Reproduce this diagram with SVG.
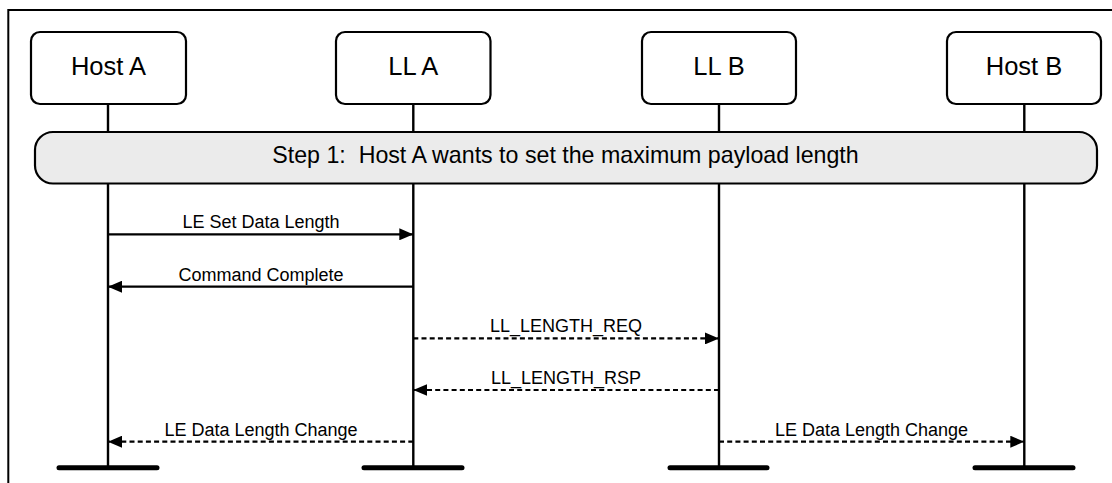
<svg xmlns="http://www.w3.org/2000/svg" width="1112" height="483" viewBox="0 0 1112 483">
<style>
.box{fill:#fff;stroke:#000;stroke-width:2.2}
.lbl{font-family:"Liberation Sans",Arial,sans-serif;font-size:25.5px;fill:#000;text-anchor:middle}
.life{stroke:#000;stroke-width:2.4;fill:none}
.foot{stroke:#000;stroke-width:5;stroke-linecap:round;fill:none}
.msg{stroke:#000;stroke-width:2.2;fill:none}
.dash{stroke-dasharray:5 3.2}
.mtxt{font-family:"Liberation Sans",Arial,sans-serif;font-size:18px;fill:#000;text-anchor:middle}
.step{font-family:"Liberation Sans",Arial,sans-serif;font-size:23.2px;fill:#000;text-anchor:middle;white-space:pre}
</style>
<defs>
<marker id="ah" viewBox="0 0 14 12" refX="14" refY="6" markerWidth="14" markerHeight="12" markerUnits="userSpaceOnUse" orient="auto">
<path d="M0,0 L14,6 L0,12 Z" fill="#000"/>
</marker>
</defs>
<rect width="1112" height="483" fill="#fff"/>
<path d="M8.3,483 V10 H1112" fill="none" stroke="#000" stroke-width="2"/>
<g id="lifelines">
<path class="life" d="M108,104 V468"/>
<path class="life" d="M413.3,104 V468"/>
<path class="life" d="M719,104 V468"/>
<path class="life" d="M1024.3,104 V468"/>
<path class="foot" d="M59,467.7 H157"/>
<path class="foot" d="M364,467.7 H462"/>
<path class="foot" d="M670,467.7 H767"/>
<path class="foot" d="M975,467.7 H1073"/>
</g>
<g id="host-a"><rect class="box" x="31" y="32" width="155" height="72" rx="9"/><text class="lbl" x="108.5" y="75">Host A</text></g>
<g id="ll-a"><rect class="box" x="336" y="32" width="154.5" height="72" rx="9"/><text class="lbl" x="413.3" y="75">LL A</text></g>
<g id="ll-b"><rect class="box" x="642" y="32" width="154" height="72" rx="9"/><text class="lbl" x="719" y="75">LL B</text></g>
<g id="host-b"><rect class="box" x="947" y="32" width="154" height="72" rx="9"/><text class="lbl" x="1024" y="75">Host B</text></g>
<g id="step1"><rect x="35" y="132" width="1062" height="51.5" rx="18" fill="#ebebeb" stroke="#000" stroke-width="2.2"/><text class="step" x="565.5" y="163.3" xml:space="preserve">Step 1:  Host A wants to set the maximum payload length</text></g>
<g id="connectors">
<path class="msg" d="M108,234.3 H413.3" marker-end="url(#ah)"/>
<text class="mtxt" x="261" y="228.3">LE Set Data Length</text>
<path class="msg" d="M413.3,286.7 H108" marker-end="url(#ah)"/>
<text class="mtxt" x="261" y="280.6">Command Complete</text>
<path class="msg dash" d="M413.3,338.4 H719" marker-end="url(#ah)"/>
<text class="mtxt" x="566" y="332.3">LL_LENGTH_REQ</text>
<path class="msg dash" d="M719,390 H413.3" marker-end="url(#ah)"/>
<text class="mtxt" x="566" y="384">LL_LENGTH_RSP</text>
<path class="msg dash" d="M413.3,441.7 H108" marker-end="url(#ah)"/>
<text class="mtxt" x="261" y="435.6">LE Data Length Change</text>
<path class="msg dash" d="M719,441.7 H1024.3" marker-end="url(#ah)"/>
<text class="mtxt" x="871.5" y="435.6">LE Data Length Change</text>
</g>
</svg>
